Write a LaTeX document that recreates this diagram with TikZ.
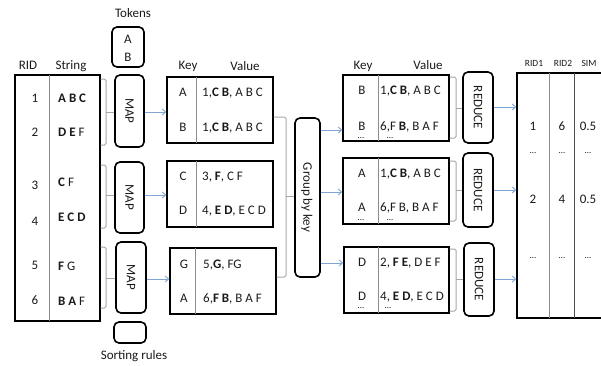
\documentclass[tikz,border=0pt]{standalone}
\usepackage{fontspec}
\setmainfont{Carlito}
\usetikzlibrary{arrows.meta}
\definecolor{txt}{HTML}{1A1A1A}
\definecolor{arw}{HTML}{7FA6D6}
\definecolor{brk}{HTML}{A6A6A6}
\definecolor{dvd}{HTML}{8C8C8C}
\definecolor{dvdk}{HTML}{4D4D4D}
\tikzset{
 lbl/.style={font=\fontsize{13}{15}\selectfont, text=txt, inner sep=0pt, text height=8.4pt, text depth=0pt},
 small/.style={font=\fontsize{9.5}{11}\selectfont, text=txt, inner sep=0pt, text height=6.1pt, text depth=0pt},
 dots/.style={font=\fontsize{9}{10}\selectfont, text=txt, inner sep=0pt, text height=1.2pt, text depth=0pt},
 tbl/.style={draw=black, line width=1.4pt, inner sep=0pt},
 rbox/.style={draw=black, line width=1.6pt, rounded corners=5pt, inner sep=0pt},
 dvdline/.style={draw=dvd, line width=0.9pt},
 brkline/.style={draw=brk, line width=1pt, rounded corners=1.5pt},
 arrowline/.style={draw=arw, line width=0.9pt, -{Straight Barb[length=3.5pt,width=6pt]}},
}
\begin{document}
\begin{tikzpicture}[x=1pt,y=-1pt]
\clip (0,0) rectangle (601,365);
% headers
\node[lbl] (hTok) at (133,13) {Tokens};
\node[lbl] (hRID) at (28,65) {RID};
\node[lbl] (hStr) at (71,65) {String};
\node[lbl] (hKey1) at (188,65) {Key};
\node[lbl] (hVal1) at (245,66) {Value};
\node[lbl] (hKey2) at (363,65) {Key};
\node[lbl] (hVal2) at (428,65) {Value};
\node[small] (hR1) at (534,63) {RID1};
\node[small] (hR2) at (563,63) {RID2};
\node[small] (hSim) at (589,63) {SIM};
\node[lbl] (hSort) at (134,355) {Sorting rules};

% tokens box
\node[rbox, minimum width=32pt, minimum height=40pt] (tok) at (128,47) {};
\node[lbl] (tokA) at (128,39) {A};
\node[lbl] (tokB) at (128,57) {B};

% left table
\node[tbl, minimum width=85pt, minimum height=246pt] (lt) at (57.5,198) {};
\draw[dvdline] (49,75) -- (49,321);
\node[lbl] (n1) at (35,98) {1};
\node[lbl] (n2) at (35,132) {2};
\node[lbl] (n3) at (35,185) {3};
\node[lbl] (n4) at (35,221) {4};
\node[lbl] (n5) at (35,265) {5};
\node[lbl] (n6) at (35,300) {6};
\node[lbl, anchor=west] (s1) at (58,98) {\textbf{A B C}};
\node[lbl, anchor=west] (s2) at (58,132) {\textbf{D E} F};
\node[lbl, anchor=west] (s3) at (58,182) {\textbf{C} F};
\node[lbl, anchor=west] (s4) at (58,217) {\textbf{E C D}};
\node[lbl, anchor=west] (s5) at (58,266) {\textbf{F} G};
\node[lbl, anchor=west] (s6) at (58,301) {\textbf{B A} F};

% map boxes
\node[rbox, minimum width=29pt, minimum height=72pt] (m1) at (129.5,111) {};
\node[rbox, minimum width=29pt, minimum height=71pt] (m2) at (129.5,197.5) {};
\node[rbox, minimum width=30pt, minimum height=71pt] (m3) at (131,277.5) {};
\node[lbl, rotate=-90] (m1t) at (m1.center) {MAP};
\node[lbl, rotate=-90] (m2t) at (m2.center) {MAP};
\node[lbl, rotate=-90] (m3t) at (m3.center) {MAP};
\node[rbox, minimum width=32pt, minimum height=21pt] (sr) at (130,332.5) {};

% brackets left -> map
\draw[brkline] (lt.east |- 0,79) -| (106,145) -- (lt.east |- 0,145);
\draw[brkline] (106,112) -- (m1.west |- 0,112);
\draw[brkline] (lt.east |- 0,165) -| (106,228) -- (lt.east |- 0,228);
\draw[brkline] (106,195) -- (m2.west |- 0,195);
\draw[brkline] (lt.east |- 0,247) -| (106,308) -- (lt.east |- 0,308);
\draw[brkline] (106,278) -- (m3.west |- 0,278);

% map output tables
\node[tbl, minimum width=106pt, minimum height=66pt] (kv1) at (220,110) {};
\node[tbl, minimum width=106pt, minimum height=66pt] (kv2) at (220,194) {};
\node[tbl, minimum width=106pt, minimum height=66pt] (kv3) at (223,281) {};
\draw[dvdline] (196,77) -- (196,143);
\draw[dvdline] (196,161) -- (196,227);
\draw[dvdline] (195,248) -- (195,314);
\node[lbl] (k1a) at (183,92) {A};
\node[lbl] (k1b) at (183,127) {B};
\node[lbl] (k2a) at (183,176) {C};
\node[lbl] (k2b) at (183,210) {D};
\node[lbl] (k3a) at (184,264) {G};
\node[lbl] (k3b) at (184,298) {A};
\node[lbl, anchor=west] (v1a) at (202,92) {1,\textbf{C B}, A B C};
\node[lbl, anchor=west] (v1b) at (202,127) {1,\textbf{C B}, A B C};
\node[lbl, anchor=west] (v2a) at (202,176) {3, \textbf{F}, C F};
\node[lbl, anchor=west] (v2b) at (202,210) {4, \textbf{E D}, E C D};
\node[lbl, anchor=west] (v3a) at (203,264) {5,\textbf{G}, FG};
\node[lbl, anchor=west] (v3b) at (203,298) {6,\textbf{F B}, B A F};

% arrows map -> tables
\draw[arrowline] (m1.east |- 0,112) -- (kv1.west |- 0,112);
\draw[arrowline] (m2.east |- 0,195) -- (kv2.west |- 0,195);
\draw[arrowline] (m3.east |- 0,279) -- (kv3.west |- 0,279);

% group by key
\node[rbox, minimum width=25pt, minimum height=159pt] (grp) at (307.5,197.5) {};
\node[lbl, rotate=-90] (grpt) at (grp.center) {Group by key};
\draw[brkline] (kv1.east |- 0,117) -| (286,196);
\draw[brkline] (kv3.east |- 0,277) -| (286,196);
\draw[brkline] (286,196) -- (grp.west |- 0,196);

% reduce input tables
\node[tbl, minimum width=106pt, minimum height=66pt] (rt1) at (396,108) {};
\node[tbl, minimum width=106pt, minimum height=66pt] (rt2) at (396,191) {};
\node[tbl, minimum width=105pt, minimum height=66pt] (rt3) at (396.5,280) {};
\draw[dvdline] (378,75) -- (378,141);
\draw[dvdline] (378,158) -- (378,224);
\draw[dvdline] (378,247) -- (378,313);
\node[lbl] (q1a) at (362,90) {B};
\node[lbl] (q1b) at (362,126) {B};
\node[dots] (q1d) at (361,137.5) {…};
\node[lbl] (q2a) at (362,173) {A};
\node[lbl] (q2b) at (362,207) {A};
\node[dots] (q2d) at (361,219.5) {…};
\node[lbl] (q3a) at (362,262) {D};
\node[lbl] (q3b) at (362,296) {D};
\node[dots] (q3d) at (361,308) {…};
\node[lbl, anchor=west] (w1a) at (380,90) {1,\textbf{C B}, A B C};
\node[lbl, anchor=west] (w1b) at (380,126) {6,F \textbf{B}, B A F};
\node[dots] (w1d) at (390,137.5) {…};
\node[lbl, anchor=west] (w2a) at (380,173) {1,\textbf{C B}, A B C};
\node[lbl, anchor=west] (w2b) at (380,207) {6,F B, B A F};
\node[dots] (w2d) at (390,219.5) {…};
\node[lbl, anchor=west] (w3a) at (380,262) {2, \textbf{F E}, D E F};
\node[lbl, anchor=west] (w3b) at (380,296) {4, \textbf{E D}, E C D};
\node[dots] (w3d) at (388,308) {…};

% arrows group -> tables
\draw[arrowline] (grp.east |- 0,130) -- (rt1.west |- 0,130);
\draw[arrowline] (grp.east |- 0,192) -- (rt2.west |- 0,192);
\draw[arrowline] (grp.east |- 0,263) -- (rt3.west |- 0,263);

% reduce boxes
\node[rbox, minimum width=30pt, minimum height=71pt] (r1) at (478,107.5) {};
\node[rbox, minimum width=30pt, minimum height=74pt] (r2) at (478,190) {};
\node[rbox, minimum width=30pt, minimum height=73pt] (r3) at (479,279.5) {};
\node[lbl, rotate=-90] (r1t) at (r1.center) {REDUCE};
\node[lbl, rotate=-90] (r2t) at (r2.center) {REDUCE};
\node[lbl, rotate=-90] (r3t) at (r3.center) {REDUCE};
\draw[brkline] (rt1.east |- 0,77) -| (456,138) -- (rt1.east |- 0,138);
\draw[brkline] (456,108) -- (r1.west |- 0,108);
\draw[brkline] (rt2.east |- 0,161) -| (456,221) -- (rt2.east |- 0,221);
\draw[brkline] (456,190) -- (r2.west |- 0,190);
\draw[brkline] (rt3.east |- 0,249) -| (456,311) -- (rt3.east |- 0,311);
\draw[brkline] (456,279) -- (r3.west |- 0,279);

% result table
\node[tbl, minimum width=104pt, minimum height=245pt] (res) at (569,195.5) {};
\draw[dvdline] (549,73) -- (549,318);
\draw[draw=dvdk, line width=0.9pt] (574,73) -- (574,318);
\node[lbl] (c11) at (533,126) {1};
\node[lbl] (c12) at (562,126) {6};
\node[lbl] (c13) at (588,126) {0.5};
\node[dots] (d11) at (533,153) {…};
\node[dots] (d12) at (562,153) {…};
\node[dots] (d13) at (588,153) {…};
\node[lbl] (c21) at (533,199) {2};
\node[lbl] (c22) at (562,199) {4};
\node[lbl] (c23) at (588,199) {0.5};
\node[dots] (d21) at (533,258) {…};
\node[dots] (d22) at (562,258) {…};
\node[dots] (d23) at (588,258) {…};

% arrows reduce -> result
\draw[arrowline] (r1.east |- 0,107) -- (res.west |- 0,107);
\draw[arrowline] (r2.east |- 0,190) -- (res.west |- 0,190);
\draw[arrowline] (r3.east |- 0,279) -- (res.west |- 0,279);
\end{tikzpicture}
\end{document}
